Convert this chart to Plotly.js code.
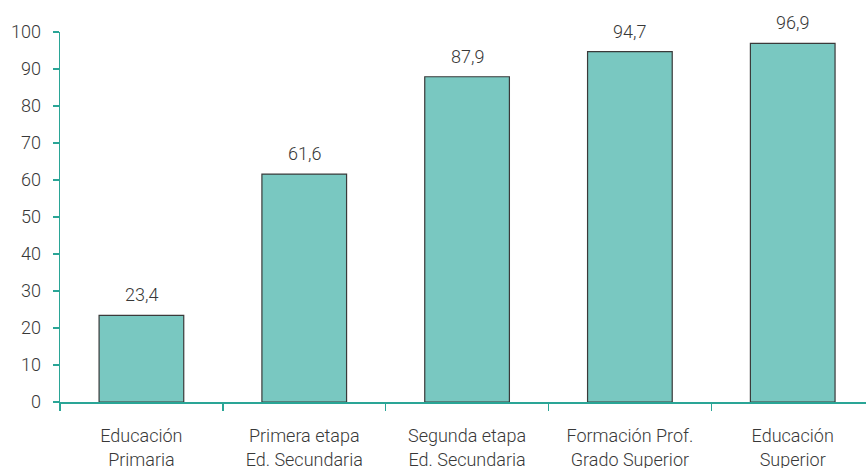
<!DOCTYPE html>
<html>
<head>
<meta charset="utf-8">
<script src="https://cdn.plot.ly/plotly-3.0.1.min.js"></script>
<style>html,body{margin:0;padding:0;background:#fff;}#chart{width:866px;height:468px;}</style>
</head>
<body>
<div id="chart"></div>
<script>
const categories = ["Educación<br>Primaria", "Primera etapa<br>Ed. Secundaria", "Segunda etapa<br>Ed. Secundaria", "Formación Prof.<br>Grado Superior", "Educación<br>Superior"];
const values = [23.4, 61.6, 87.9, 94.7, 96.9];
const valueLabels = ["23,4", "61,6", "87,9", "94,7", "96,9"];
const yTicks = [0, 10, 20, 30, 40, 50, 60, 70, 80, 90, 100];

const axisColor = '#2aa596';
const fontBase = {family: 'Roboto, "Liberation Sans", Arial, sans-serif', size: 18, color: '#383838', weight: 300};

const trace = {
  type: 'bar',
  x: categories,
  y: values,
  width: 0.52,
  marker: {color: '#79c8c1', line: {color: '#3a3a3a', width: 1.2}},
  cliponaxis: false,
  hoverinfo: 'none'
};

const annotations = categories.map((c, i) => ({
  x: c, y: values[i], xref: 'x', yref: 'y',
  text: valueLabels[i], showarrow: false,
  yanchor: 'bottom', yshift: 8,
  font: fontBase
}));

const layout = {
  width: 866, height: 468,
  margin: {l: 60, r: 0, t: 32, b: 66},
  paper_bgcolor: '#fff', plot_bgcolor: '#fff',
  font: fontBase,
  showlegend: false,
  annotations: annotations,
  xaxis: {
    type: 'category',
    range: [-0.5, 4.45],
    tickson: 'boundaries',
    ticks: 'outside', ticklen: 7, tickcolor: axisColor, tickwidth: 1.5,
    showline: true, linecolor: axisColor, linewidth: 1.5,
    showgrid: false, zeroline: false,
    ticklabelstandoff: 17,
    tickfont: fontBase
  },
  yaxis: {
    range: [0, 100],
    tickmode: 'array', tickvals: yTicks,
    ticks: 'outside', ticklen: 6, tickcolor: axisColor, tickwidth: 1.5,
    showline: true, linecolor: axisColor, linewidth: 1.5,
    showgrid: false, zeroline: false,
    tickfont: fontBase,
    ticklabelstandoff: 8
  }
};

Plotly.newPlot('chart', [trace], layout, {displayModeBar: false, staticPlot: true});
</script>
</body>
</html>
